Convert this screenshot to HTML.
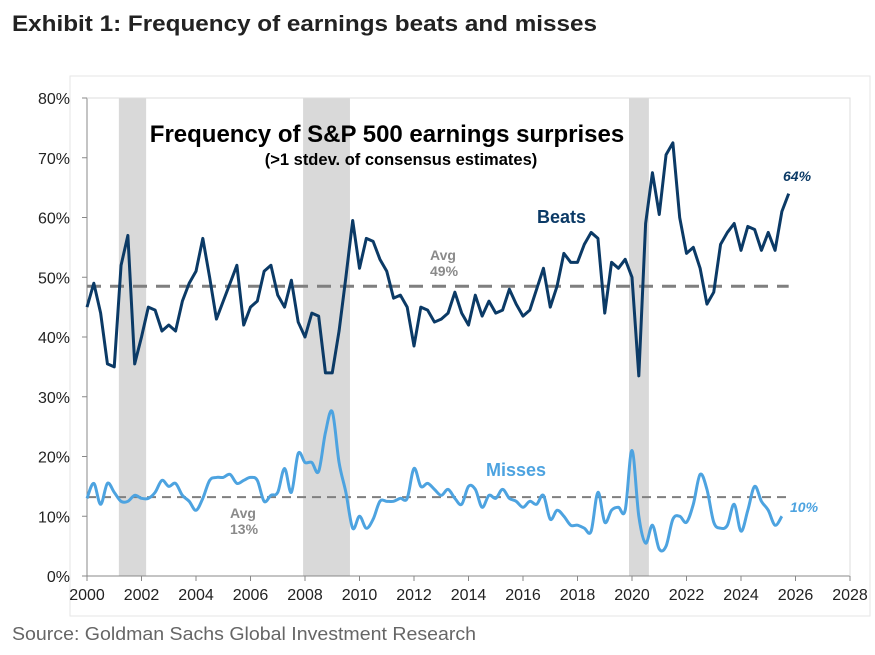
<!DOCTYPE html>
<html><head><meta charset="utf-8"><style>
body{margin:0;background:#fff;width:875px;height:650px;overflow:hidden;font-family:"Liberation Sans",sans-serif}
</style></head><body>
<svg width="875" height="650">
<text x="12" y="31" font-size="22" font-weight="bold" fill="#222" textLength="585" lengthAdjust="spacingAndGlyphs">Exhibit 1: Frequency of earnings beats and misses</text>
<rect x="70" y="76" width="800" height="540" fill="none" stroke="#e6e6e6"/>
<g id="g"></g>
<text x="12" y="640" font-size="18" fill="#666" textLength="464" lengthAdjust="spacingAndGlyphs">Source: Goldman Sachs Global Investment Research</text>
</svg>
<script>
const beats=[45,49,44,35.5,35,52,57,35.5,40,45,44.5,41,42,41,46,49,51,56.5,50,43,46,49,52,42,45,46,51,52,47,45,49.5,42.5,40,44,43.5,34,34,41,50,59.5,51.5,56.5,56,53,51,46.5,47,45,38.5,45,44.5,42.5,43,44,47.5,44,42,47,43.5,46,44,44.5,48,45.5,43.5,44.5,48,51.5,45,48.5,54,52.5,52.5,55.5,57.5,56.5,44,52.5,51.5,53,50,33.5,59,67.5,60.5,70.5,72.5,60,54,55,51.5,45.5,47.5,55.5,57.5,59,54.5,58.5,58,54.5,57.5,54.5,61,64];
const misses=[13,15.5,12,15.5,14,12.5,12.5,13.5,13,13,14,16,15,15.5,13.5,12.5,11,13,16,16.5,16.5,17,15.5,16,16.5,16,12.5,13.5,14,18,14,20.5,19,19,17.5,24,27.5,19,14,8,10,8,9.5,12.5,12.5,12.5,13,13,18,15,15.5,14.5,13.5,14.5,13,12,15,14.5,11.5,13.5,13,14.5,13,12.5,11.5,12.5,12,13.5,9.5,11,10,8.5,8.5,8,7.5,14,9,11,11.5,11,21,10,5.5,8.5,4.5,5,9.5,10,9,12,17,14.5,9,8,8.5,12,7.5,11,15,12.5,11,8.5,10];
const recessions=[[2001.17,2002.17],[2007.93,2009.65],[2019.89,2020.62]];
const yTicks=[0,10,20,30,40,50,60,70,80];
const xTicks=[2000,2002,2004,2006,2008,2010,2012,2014,2016,2018,2020,2022,2024,2026,2028];
const beatsAvg=48.5, missesAvg=13.2;
const X=v=>87+(v-2000)*(763/28), Y=v=>576-v*5.975;
const g=document.getElementById('g'),NS='http://www.w3.org/2000/svg';
function el(t,a,txt){const e=document.createElementNS(NS,t);for(const k in a)e.setAttribute(k,a[k]);if(txt!==undefined)e.textContent=txt;g.appendChild(e);return e;}
recessions.forEach(r=>{const e=el('rect',{x:X(r[0]),y:98,width:X(r[1])-X(r[0]),height:478,fill:'#d9d9d9'});

});
const ax=el('path',{d:`M87 98V576H850`,stroke:'#888',fill:'none'});


el('path',{d:`M87 98H850V576`,stroke:'#ddd',fill:'none'});
yTicks.forEach(t=>{el('line',{x1:82,x2:87,y1:Y(t),y2:Y(t),stroke:'#888'});
const e=el('text',{x:70,y:Y(t)+6,'font-size':16,'text-anchor':'end',fill:'#222'},t+'%');

});
xTicks.forEach(t=>{el('line',{x1:X(t),x2:X(t),y1:576,y2:581,stroke:'#888'});
const e=el('text',{x:X(t),y:600,'font-size':16,'text-anchor':'middle',fill:'#222'},t);

});
const a1=el('line',{x1:X(2000),x2:X(2025.75),y1:Y(beatsAvg),y2:Y(beatsAvg),stroke:'#7f7f7f','stroke-width':3,'stroke-dasharray':'14 9'});


const a2=el('line',{x1:X(2000),x2:X(2025.75),y1:Y(missesAvg),y2:Y(missesAvg),stroke:'#7f7f7f','stroke-width':2,'stroke-dasharray':'9 6'});


const bp=beats.map((v,i)=>[X(2000+i*0.25),Y(v)]);
const b=el('path',{d:'M'+bp.map(p=>p.join(' ')).join('L'),fill:'none',stroke:'#0b3a66','stroke-width':3,'stroke-linejoin':'round'});


const mp=misses.map((v,i)=>[X(2000+i*0.25),Y(v)]);
let d='M'+mp[0].join(' ');
for(let i=0;i<mp.length-1;i++){const p0=mp[i-1]||mp[i],p1=mp[i],p2=mp[i+1],p3=mp[i+2]||p2;
d+=`C${p1[0]+(p2[0]-p0[0])/6} ${p1[1]+(p2[1]-p0[1])/6} ${p2[0]-(p3[0]-p1[0])/6} ${p2[1]-(p3[1]-p1[1])/6} ${p2[0]} ${p2[1]}`;}
const m=el('path',{d,fill:'none',stroke:'#4da3e0','stroke-width':3});


function lab(x,y,t,s,c,w,st,name,anchor){const e=el('text',{x,y,'font-size':s,fill:c,'font-weight':w,'font-style':st,'text-anchor':anchor||'start'},t);

}
lab(387,142,'Frequency of S&P 500 earnings surprises',24,'#000','bold','normal','chart-title','middle');
lab(401,165,'(>1 stdev. of consensus estimates)',16.5,'#000','bold','normal','chart-subtitle','middle');
lab(537,223,'Beats',18,'#0b3a66','bold','normal','beats-label');
lab(486,476,'Misses',18,'#4da3e0','bold','normal','misses-label');
lab(430,260,'Avg',14,'#8a8a8a','bold','normal','beats-avg-label');
lab(430,276,'49%',14,'#8a8a8a','bold','normal','beats-avg-value');
lab(230,518,'Avg',14,'#8a8a8a','bold','normal','misses-avg-label');
lab(230,534,'13%',14,'#8a8a8a','bold','normal','misses-avg-value');
lab(783,181,'64%',14,'#0b3a66','bold','italic','beats-last-value');
lab(790,512,'10%',14,'#4da3e0','bold','italic','misses-last-value');
</script>
</body></html>
